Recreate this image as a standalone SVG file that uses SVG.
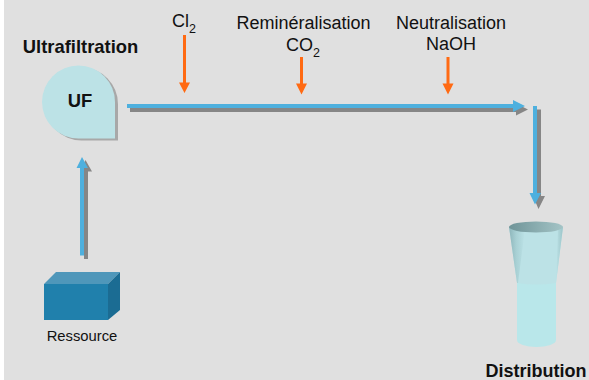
<svg xmlns="http://www.w3.org/2000/svg" width="589" height="380" viewBox="0 0 589 380">
<defs>
<style>
text{font-family:"Liberation Sans",Arial,sans-serif;fill:#111;text-anchor:middle}
.l{font-size:18px}
.b{font-size:18.4px;font-weight:bold}
.d{font-size:18px;font-weight:bold}
.s{font-size:14.8px}
.u{font-size:12.5px}
.o{fill:#ff6a13}
.g{fill:#868686}
.c{fill:#4eb0de}
</style>
<linearGradient id="wedgeL" x1="0" x2="1" y1="0" y2="0">
<stop offset="0" stop-color="#8db5ba"/><stop offset=".45" stop-color="#a8d0d4"/><stop offset="1" stop-color="#bce2e6"/>
</linearGradient>
<linearGradient id="wedgeR" x1="0" x2="1" y1="0" y2="0">
<stop offset="0" stop-color="#bce2e6"/><stop offset="1" stop-color="#9cc4c8"/>
</linearGradient>
<linearGradient id="rim" x1="0" x2="1" y1="0" y2="0">
<stop offset="0" stop-color="#6f9498"/><stop offset="1" stop-color="#a4c4c6"/>
</linearGradient>
</defs>
<rect x="4" y="0" width="585" height="380" fill="#e0e0e0"/>
<g id="connectors">
<polygon class="g" points="130,108 516,108 516,103.500 528,109.500 516,115.500 516,112 130,112"/>
<polygon class="c" points="127,104 513,104 513,100 525,106 513,112 513,108 127,108"/>
<polygon class="g" points="537,109.500 541,109.500 541,196 545,196 538.500,209 533,196 537,196"/>
<polygon class="c" points="533,106 537,106 537,193 541,193 535,204.500 529.500,193 533,193"/>
<polygon class="g" points="84,259 88,259 88,171.500 92,171.500 85.500,160 80,171.500 84,171.500"/>
<polygon class="c" points="80,255.500 84,255.500 84,168 88,168 82,157 76.500,168 80,168"/>
<polygon class="o" points="183,35 186,35 186,82.500 190,82.500 184.500,93 179,82.500 183,82.500"/>
<polygon class="o" points="300,57 303,57 303,83.500 307,83.500 301.500,94.500 296,83.500 300,83.500"/>
<polygon class="o" points="446.500,57 449.500,57 449.500,83.500 453.500,83.500 448,94.500 442.500,83.500 446.500,83.500"/>
</g>
<g id="uf">
<path transform="translate(3,2)" d="M78.500 65.500A36.500 36.500 0 0 1 115 102V138.500H78.500A36.500 36.500 0 0 1 78.500 65.500Z" fill="#a8a8a8"/>
<path d="M78.500 65.500A36.500 36.500 0 0 1 115 102V138.500H78.500A36.500 36.500 0 0 1 78.500 65.500Z" fill="#bce2e6"/>
<text class="b" x="80" y="107">UF</text>
</g>
<text class="b" x="80.500" y="53">Ultrafiltration</text>
<g id="ressource">
<polygon points="44,284 56,272 120,272 108,284" fill="#4f97ba"/>
<polygon points="108,284 120,272 120,310 108,320" fill="#1b6c93"/>
<rect x="44" y="284" width="64" height="36" fill="#2080ac"/>
<text class="s" x="82" y="341">Ressource</text>
</g>
<g id="distribution">
<ellipse cx="536.500" cy="340" rx="19.500" ry="7" fill="#b9e7ea"/>
<rect x="517" y="282" width="39" height="58" fill="#b9e7ea"/>
<path d="M509 227H563L556 283Q536.500 286 517 283Z" fill="#bce2e6"/>
<polygon points="509,227 525,229 518,283 517,283" fill="url(#wedgeL)"/>
<polygon points="558,229 563,227 556,283" fill="url(#wedgeR)"/>
<ellipse cx="536" cy="227" rx="27" ry="5.500" fill="url(#rim)"/>
<text class="d" x="536" y="377">Distribution</text>
</g>
<g id="labels">
<text class="l" x="184" y="27">Cl<tspan class="u" dy="6">2</tspan></text>
<text class="l" x="303.500" y="29">Reminéralisation</text>
<text class="l" x="303" y="51">CO<tspan class="u" dy="6">2</tspan></text>
<text class="l" x="451" y="29">Neutralisation</text>
<text class="l" x="451" y="50">NaOH</text>
</g>
</svg>
